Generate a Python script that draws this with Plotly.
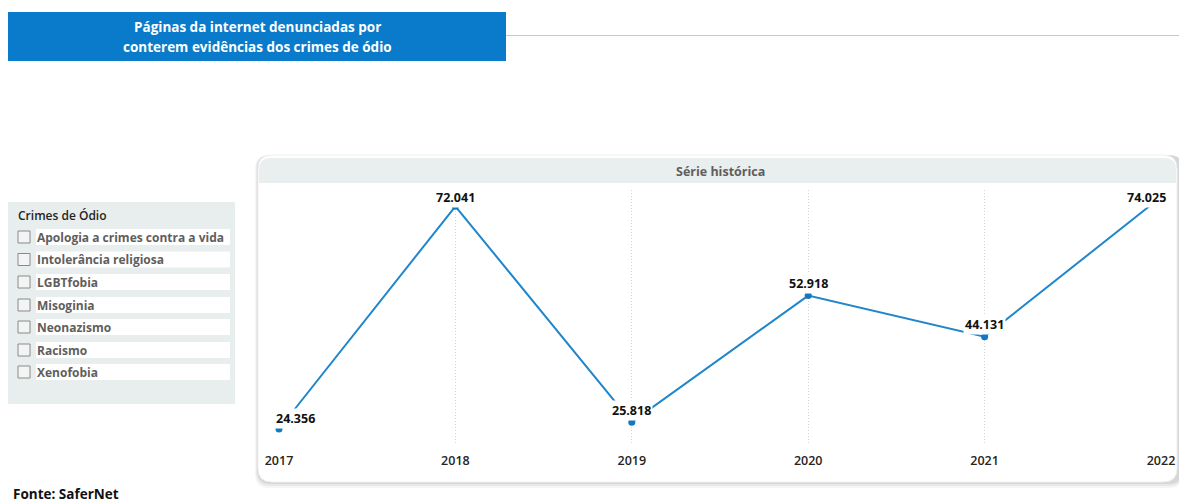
import plotly.graph_objects as go

# ---- data ----
years = [2017, 2018, 2019, 2020, 2021, 2022]
pages = [24356, 72041, 25818, 52918, 44131, 74025]
value_labels = ["24.356", "72.041", "25.818", "52.918", "44.131", "74.025"]
crime_types = [
    "Apologia a crimes contra a vida",
    "Intolerância religiosa",
    "LGBTfobia",
    "Misoginia",
    "Neonazismo",
    "Racismo",
    "Xenofobia",
]
title_lines = ["Páginas da internet denunciadas por", "conterem evidências dos crimes de ódio"]

W, H = 1179, 502
FONT = "Open Sans"
LINE_BLUE = "#1F86CB"


def px(x):
    return x / W


def py(y):
    return 1 - y / H


def rounded_rect(x0, y0, x1, y1, r):
    """Rounded rectangle path in paper coords, from pixel corners."""
    rx, ry = r / W, r / H
    X0, X1 = px(x0), px(x1)
    Y0, Y1 = py(y0), py(y1)  # Y0 top, Y1 bottom
    return (
        f"M {X0 + rx},{Y0} L {X1 - rx},{Y0} Q {X1},{Y0} {X1},{Y0 - ry} "
        f"L {X1},{Y1 + ry} Q {X1},{Y1} {X1 - rx},{Y1} "
        f"L {X0 + rx},{Y1} Q {X0},{Y1} {X0},{Y1 + ry} "
        f"L {X0},{Y0 - ry} Q {X0},{Y0} {X0 + rx},{Y0} Z"
    )


def top_rounded_rect(x0, y0, x1, y1, r):
    rx, ry = r / W, r / H
    X0, X1 = px(x0), px(x1)
    Y0, Y1 = py(y0), py(y1)
    return (
        f"M {X0 + rx},{Y0} L {X1 - rx},{Y0} Q {X1},{Y0} {X1},{Y0 - ry} "
        f"L {X1},{Y1} L {X0},{Y1} L {X0},{Y0 - ry} Q {X0},{Y0} {X0 + rx},{Y0} Z"
    )


shapes = []
annotations = []

# header banner
shapes.append(dict(type="rect", xref="paper", yref="paper",
                   x0=px(506), x1=px(1179), y0=py(35.5), y1=py(35.5),
                   line=dict(color="#C8C8C8", width=1)))
shapes.append(dict(type="rect", xref="paper", yref="paper",
                   x0=px(8), x1=px(506), y0=py(61), y1=py(12),
                   fillcolor="#0A7BCA", line=dict(width=0), layer="below"))
for i, t in enumerate(title_lines):
    annotations.append(dict(xref="paper", yref="paper", x=px(257), y=py(27 + i * 19.5),
                            text=t, showarrow=False, xanchor="center", yanchor="middle",
                            font=dict(family=FONT, size=13.5, color="white", weight=700)))

# slicer panel
shapes.append(dict(type="rect", xref="paper", yref="paper",
                   x0=px(8), x1=px(235), y0=py(404), y1=py(202),
                   fillcolor="#E8EDED", line=dict(width=0), layer="below"))
annotations.append(dict(xref="paper", yref="paper", x=px(16), y=py(215.5),
                        text="Crimes de Ódio", showarrow=False, xanchor="left", yanchor="middle",
                        font=dict(family=FONT, size=12, color="#252423", weight=600)))
row_y = [237, 259.5, 282, 305, 327, 350, 372]
for yy, name in zip(row_y, crime_types):
    shapes.append(dict(type="rect", xref="paper", yref="paper",
                       x0=px(36), x1=px(230), y0=py(yy + 8), y1=py(yy - 8),
                       fillcolor="white", line=dict(width=0), layer="below"))
    shapes.append(dict(type="rect", xref="paper", yref="paper",
                       x0=px(18), x1=px(30), y0=py(yy + 6), y1=py(yy - 6),
                       fillcolor="#F3F5F5", line=dict(color="#8A8A8A", width=1)))
    annotations.append(dict(xref="paper", yref="paper", x=px(35), y=py(yy),
                            text=name, showarrow=False, xanchor="left", yanchor="middle",
                            font=dict(family=FONT, size=12, color="#605E5C", weight=700)))

# chart card with soft shadow
for off, op in [(6, 0.04), (4, 0.05), (2, 0.07)]:
    shapes.append(dict(type="path", xref="paper", yref="paper",
                       path=rounded_rect(258 - off / 2, 155, 1179 + 4, 482 + off, 14),
                       fillcolor=f"rgba(0,0,0,{op})", line=dict(width=0), layer="below"))
shapes.append(dict(type="path", xref="paper", yref="paper",
                   path=rounded_rect(258, 155, 1177, 482, 14),
                   fillcolor="white", line=dict(color="#EFEFEF", width=1), layer="below"))
shapes.append(dict(type="path", xref="paper", yref="paper",
                   path=top_rounded_rect(259, 158, 1176, 183, 12),
                   fillcolor="#E9EEEE", line=dict(width=0), layer="below"))
annotations.append(dict(xref="paper", yref="paper", x=px(720), y=py(172),
                        text="Série histórica", showarrow=False, xanchor="center", yanchor="middle",
                        font=dict(family=FONT, size=12.5, color="#605E5C", weight=700)))

# source note
annotations.append(dict(xref="paper", yref="paper", x=px(11), y=py(494),
                        text="Fonte: SaferNet", showarrow=False, xanchor="left", yanchor="middle",
                        font=dict(family=FONT, size=13.5, color="#111111", weight=700)))

# data labels (white background hides the line underneath)
label_shift = [(16, 11), (0, 9), (0, 12), (0, 12), (0, 12), (-15, 0)]
for x, v, lab, (dx, dy) in zip(years, pages, value_labels, label_shift):
    annotations.append(dict(xref="x", yref="y", x=x, y=v, text=lab, showarrow=False,
                            xanchor="center", yanchor="middle", xshift=dx, yshift=dy,
                            bgcolor="white", borderpad=1,
                            font=dict(family=FONT, size=12.5, color="#111111", weight=700)))

fig = go.Figure()
fig.add_trace(go.Scatter(
    x=years, y=pages, mode="lines+markers",
    line=dict(color=LINE_BLUE, width=2),
    marker=dict(color="#1478C0", size=7),
    cliponaxis=False, hoverinfo="x+y",
))

fig.update_layout(
    width=W, height=H,
    margin=dict(l=0, r=0, t=0, b=0, autoexpand=False),
    paper_bgcolor="white", plot_bgcolor="rgba(0,0,0,0)",
    showlegend=False,
    shapes=shapes, annotations=annotations,
    xaxis=dict(domain=[px(279), px(1161)], range=[2017, 2022], automargin=False,
               tickmode="array", tickvals=years, ticktext=[str(y) for y in years],
               showgrid=True, gridcolor="#D4D4D4", griddash="1px,2px", gridwidth=1,
               zeroline=False, showline=False,
               ticks="outside", ticklen=4, tickcolor="rgba(0,0,0,0)",
               tickfont=dict(family=FONT, size=12.5, color="#252423", weight=600)),
    yaxis=dict(domain=[py(445), py(190)], range=[20930, 75524], automargin=False,
               visible=False, showgrid=False, zeroline=False),
)

fig.write_html("out.html")
